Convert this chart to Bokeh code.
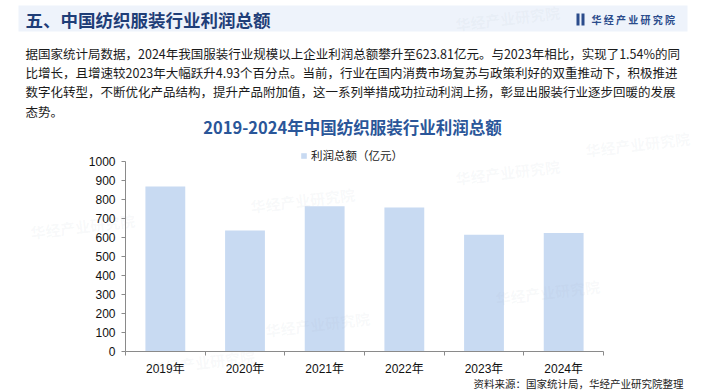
from bokeh.plotting import figure
from bokeh.models import (Label, BoxAnnotation, FixedTicker, Range1d, Legend, LegendItem,
                          ColumnDataSource)
from bokeh.embed import file_html
from bokeh.resources import INLINE

# ---- data ----
years = ["2019年", "2020年", "2021年", "2022年", "2023年", "2024年"]
profit = [868, 637, 765, 758, 614.35, 623.81]
y_ticks = [0, 100, 200, 300, 400, 500, 600, 700, 800, 900, 1000]

header_title = "五、中国纺织服装行业利润总额"
brand = "华 经 产 业 研 究 院"
paragraph = [
    "据国家统计局数据，2024年我国服装行业规模以上企业利润总额攀升至623.81亿元。与2023年相比，实现了1.54%的同",
    "比增长，且增速较2023年大幅跃升4.93个百分点。当前，行业在国内消费市场复苏与政策利好的双重推动下，积极推进",
    "数字化转型，不断优化产品结构，提升产品附加值，这一系列举措成功拉动利润上扬，彰显出服装行业逐步回暖的发展",
    "态势。",
]
chart_title = "2019-2024年中国纺织服装行业利润总额"
series_name = "利润总额（亿元）"
source_text = "资料来源：国家统计局，华经产业研究院整理"

CJK = "Noto Sans CJK SC"
LAT = "'Liberation Sans', 'Noto Sans CJK SC'"
BAR = "#C8DAF2"

W, H = 704, 392
# where the chart's axes sit on the canvas (pixels)
AX_L, AX_R, AX_T, AX_B = 125, 603, 161, 351
n = len(years)
ymax = y_ticks[-1]
xs_per_px = n / (AX_R - AX_L)
ys_per_px = ymax / (AX_B - AX_T)
x_range = Range1d(-AX_L * xs_per_px, n + (W - AX_R) * xs_per_px)
y_range = Range1d(-(H - AX_B) * ys_per_px, ymax + AX_T * ys_per_px)

p = figure(width=W, height=H, output_backend="svg", toolbar_location=None,
           x_range=x_range, y_range=y_range,
           min_border_left=0, min_border_right=0, min_border_top=0, min_border_bottom=0)
p.outline_line_color = None
p.grid.visible = False
p.background_fill_color = "white"
p.border_fill_color = "white"

xs = [i + 0.5 for i in range(n)]
src = ColumnDataSource(dict(x=xs, top=profit))

# axes (drawn at fixed data locations inside the frame)
p.yaxis.fixed_location = 0
p.yaxis.bounds = (0, ymax)
p.yaxis.ticker = FixedTicker(ticks=y_ticks)
p.yaxis.axis_line_color = "#8A8A8A"
p.yaxis.major_tick_line_color = "#8A8A8A"
p.yaxis.major_tick_out = 4
p.yaxis.major_tick_in = 0
p.yaxis.minor_tick_line_color = None
p.yaxis.major_label_standoff = 6
p.yaxis.major_label_text_font = LAT
p.yaxis.major_label_text_font_size = "12px"
p.yaxis.major_label_text_color = "#111111"

p.xaxis.fixed_location = 0
p.xaxis.bounds = (0, n)
p.xaxis.ticker = FixedTicker(ticks=xs, minor_ticks=list(range(n + 1)))
p.xaxis.major_label_overrides = {x: y for x, y in zip(xs, years)}
p.xaxis.axis_line_color = "#8A8A8A"
p.xaxis.major_tick_line_color = None
p.xaxis.major_tick_out = 4
p.xaxis.major_tick_in = 0
p.xaxis.minor_tick_line_color = "#8A8A8A"
p.xaxis.minor_tick_out = 4
p.xaxis.minor_tick_in = 0
p.xaxis.major_label_standoff = 6
p.xaxis.major_label_text_font = LAT
p.xaxis.major_label_text_font_size = "12px"
p.xaxis.major_label_text_color = "#111111"


def sx(x):
    return x


def sy(y):
    return H - y


def lab(x, y, text, size, color, font=CJK, bold=False, align="left", baseline="middle",
        alpha=1.0, angle=0.0):
    p.add_layout(Label(x=sx(x), y=sy(y), x_units="screen", y_units="screen", text=text,
                       text_font=font, text_font_size=size, text_color=color,
                       text_font_style="bold" if bold else "normal", text_align=align,
                       text_baseline=baseline, text_alpha=alpha, angle=angle))


def box(x0, y0, x1, y1, color, alpha=1.0, level="underlay"):
    p.add_layout(BoxAnnotation(left=sx(x0), right=sx(x1), top=sy(y0), bottom=sy(y1),
                               left_units="screen", right_units="screen",
                               top_units="screen", bottom_units="screen",
                               fill_color=color, fill_alpha=alpha, line_color=None,
                               level=level))


# header band
box(18, 5, 687, 31, "#EEF3FB")

# faint watermarks
wm = "华经产业研究院"
for (wx, wy) in [(455, 24), (585, 150), (30, 232), (455, 178), (250, 206), (495, 298),
                 (265, 330), (150, 368)]:
    lab(wx, wy, wm, "15px", "#9AA3B5", bold=True, alpha=0.07, angle=0.12)

bars = p.vbar(x="x", top="top", width=0.5, source=src, fill_color=BAR, line_color=None)

lab(25, 19, header_title, "17.5px", "#1F3E78", bold=True)
box(576, 13, 579, 25, "#2B4C8C", level="overlay")
box(581, 13, 584, 25, "#2B4C8C", level="overlay")
lab(591, 19, brand, "10px", "#2B4C8C", bold=True)

# paragraph
for i, line in enumerate(paragraph):
    lab(25, 53 + i * 19.2, line, "12.5px", "#1A1A1A")

# chart title
lab(352, 126, chart_title, "16.5px", "#2A5699", bold=True, align="center")

# legend
legend = Legend(items=[LegendItem(label=series_name, renderers=[bars])],
                location=(sx(300), sy(163)), orientation="horizontal",
                glyph_width=7, glyph_height=7, label_standoff=4, padding=0, margin=0,
                border_line_color=None, background_fill_alpha=0,
                label_text_font=CJK, label_text_font_size="11.5px",
                label_text_color="#222222", label_height=14)
p.add_layout(legend, "center")

# source
lab(683, 383, source_text, "10.5px", "#222222", align="right")

open("out.html", "w").write(file_html(p, INLINE))
